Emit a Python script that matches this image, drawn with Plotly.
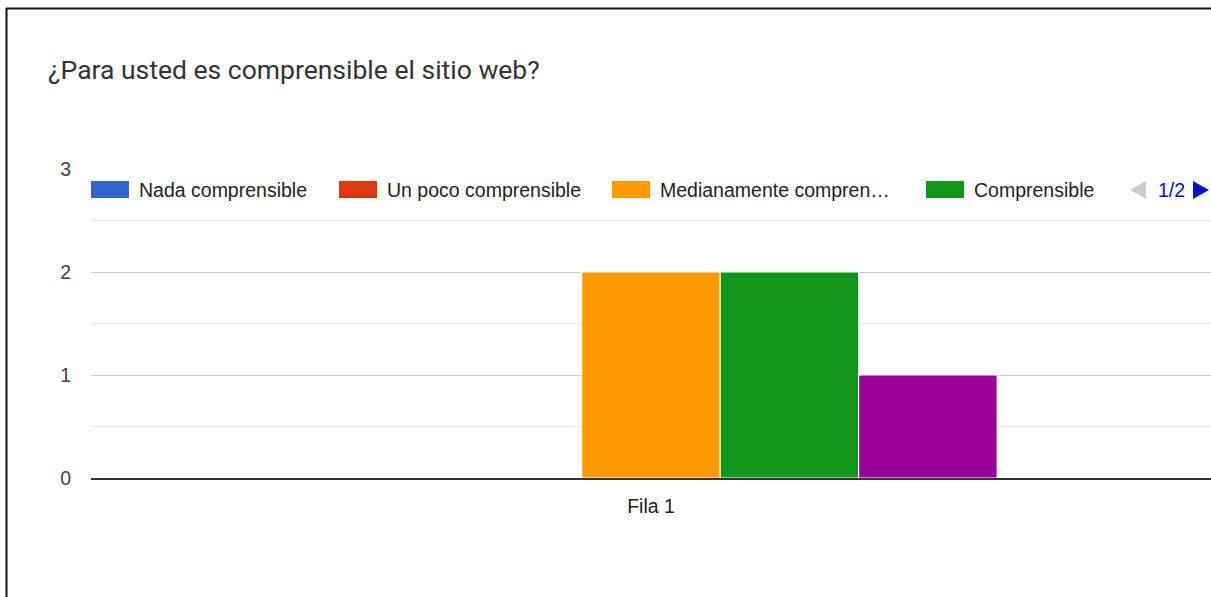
import plotly.graph_objects as go

# Survey question results (single row "Fila 1")
categories = ["Fila 1"]
series_names = [
    "Nada comprensible",
    "Un poco comprensible",
    "Medianamente comprensible",
    "Comprensible",
    "Muy comprensible",
]
legend_labels = [
    "Nada comprensible",
    "Un poco comprensible",
    "Medianamente compren…",
    "Comprensible",
]
series_values = [
    [0],
    [0],
    [2],
    [2],
    [1],
]
series_colors = ["#3366cc", "#dc3912", "#ff9900", "#109618", "#990099"]
y_ticks = [0, 1, 2, 3]
title_text = "¿Para usted es comprensible el sitio web?"
legend_page = "1/2"

W, H = 1211, 597
PL, PR, PT, PB = 91, 1211, 169, 478  # plot area in pixels


def px(x):
    return (x - PL) / (PR - PL)


def py(y):
    return (PB - y) / (PB - PT)


fig = go.Figure()
for name, vals, col in zip(series_names, series_values, series_colors):
    fig.add_trace(go.Bar(
        x=categories, y=vals, name=name,
        marker=dict(color=col, line=dict(color="white", width=1 if max(vals) > 0 else 0)),
        showlegend=False, hoverinfo="y+name",
    ))

shapes = []
annotations = []

# Outer frame (left and top edges)
shapes.append(dict(type="line", xref="paper", yref="paper",
                   x0=px(6.5), x1=px(6.5), y0=py(8), y1=py(H),
                   line=dict(color="#111111", width=2), layer="above"))
shapes.append(dict(type="line", xref="paper", yref="paper",
                   x0=px(6), x1=px(W), y0=py(8.5), y1=py(8.5),
                   line=dict(color="#111111", width=2), layer="above"))

# Legend (first page of two)
swatch_x = [91, 339, 612, 926]
for x0, label, col in zip(swatch_x, legend_labels, series_colors):
    shapes.append(dict(type="rect", xref="paper", yref="paper",
                       x0=px(x0), x1=px(x0 + 38), y0=py(198), y1=py(181),
                       line=dict(width=0), fillcolor=col, layer="above"))
    annotations.append(dict(xref="paper", yref="paper", x=px(x0 + 46), y=py(190),
                            text=label, showarrow=False, xanchor="left", yanchor="middle",
                            font=dict(family="Liberation Sans, Arial", size=19.5, color="#222222")))

# Legend pager
shapes.append(dict(type="path", xref="paper", yref="paper",
                   path=f"M {px(1130)} {py(190)} L {px(1146)} {py(181)} L {px(1146)} {py(199)} Z",
                   line=dict(width=0), fillcolor="#cccccc", layer="above"))
shapes.append(dict(type="path", xref="paper", yref="paper",
                   path=f"M {px(1193)} {py(181)} L {px(1209)} {py(190)} L {px(1193)} {py(199)} Z",
                   line=dict(width=0), fillcolor="#0011cc", layer="above"))
annotations.append(dict(xref="paper", yref="paper", x=px(1171), y=py(190),
                        text=legend_page, showarrow=False, xanchor="center", yanchor="middle",
                        font=dict(family="Liberation Sans, Arial", size=19.5, color="#0011cc")))

# Title
annotations.append(dict(xref="paper", yref="paper", x=px(46), y=py(70),
                        text=title_text, showarrow=False, xanchor="left", yanchor="middle",
                        font=dict(family="Roboto", size=26.5, color="#333333")))

fig.update_layout(
    width=W, height=H,
    margin=dict(l=PL, r=W - PR, t=PT, b=H - PB, pad=0),
    paper_bgcolor="white", plot_bgcolor="white",
    barmode="group", bargap=0.382, bargroupgap=0,
    shapes=shapes, annotations=annotations,
    showlegend=False,
    font=dict(family="Liberation Sans, Arial", size=19.5, color="#444444"),
)
fig.update_xaxes(
    range=[-0.5, 0.5], showgrid=False, showline=True, linecolor="#333333", linewidth=2,
    ticks="", tickfont=dict(color="#222222", size=19.5), ticklabelstandoff=10,
    fixedrange=True,
)
fig.update_yaxes(
    range=[0, 3], tickvals=y_ticks, showgrid=True, gridcolor="#cccccc", gridwidth=1,
    zeroline=False, showline=False, ticks="", ticklabelstandoff=19,
    tickfont=dict(color="#444444", size=19.5),
    minor=dict(dtick=0.5, showgrid=True, gridcolor="#ebebeb", gridwidth=1),
    fixedrange=True,
)

fig.write_html("out.html", config={"displayModeBar": False})
